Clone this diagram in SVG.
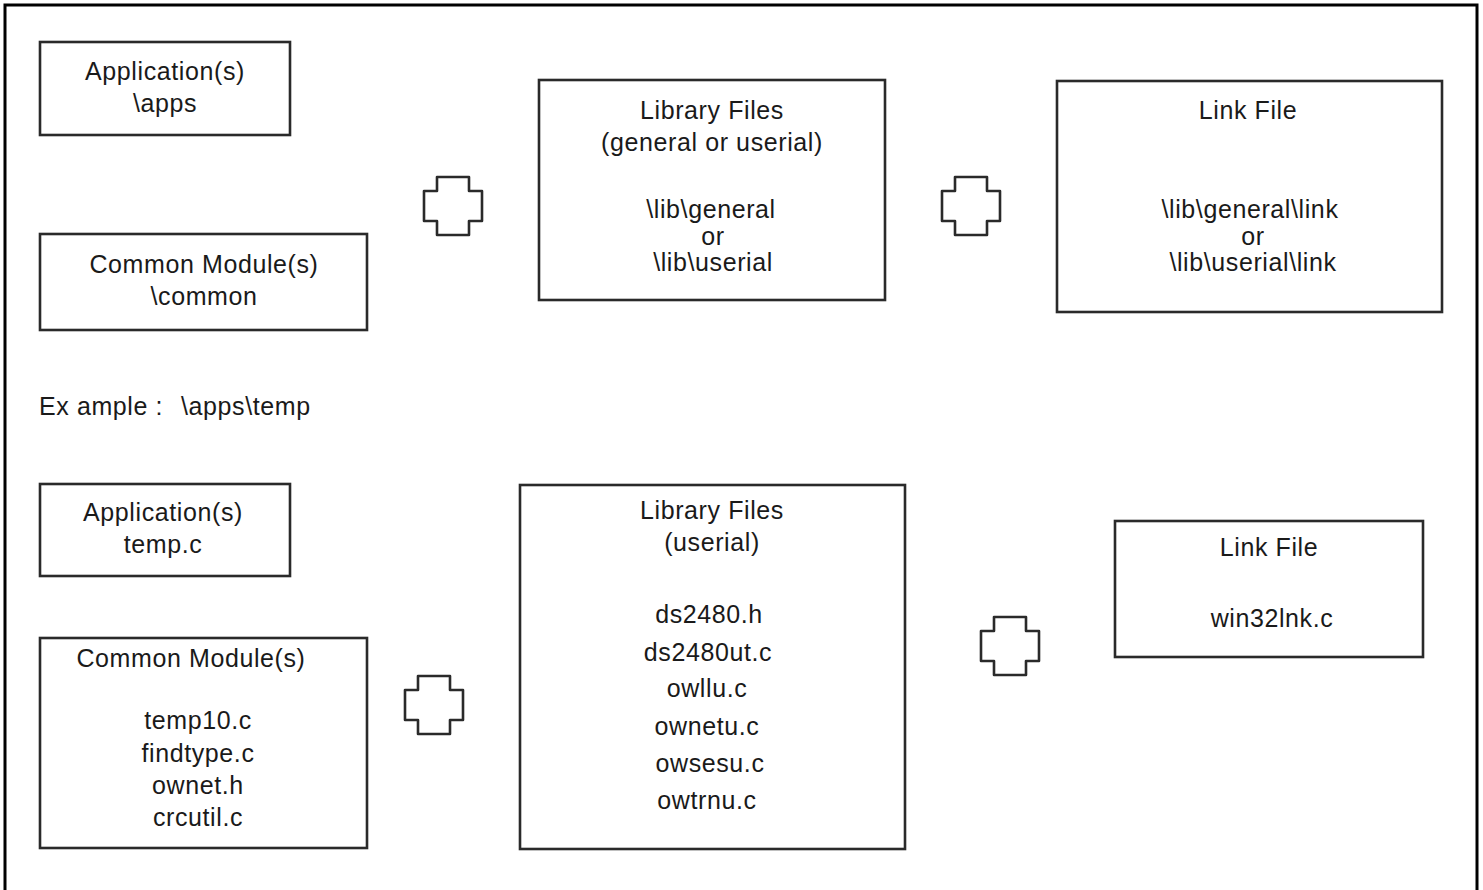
<svg xmlns="http://www.w3.org/2000/svg" width="1483" height="890" viewBox="0 0 1483 890">
<style>
.box{fill:#fff;stroke:#2a2a2a;stroke-width:2.6}
.plus{fill:#fff;stroke:#2a2a2a;stroke-width:2.6;stroke-linejoin:round}
text{font-family:"Liberation Sans",Arial,sans-serif;font-size:25px;letter-spacing:0.6px;fill:#1a1a1a}
.c{text-anchor:middle}
</style>
<defs>
<path id="plusShape" d="M-16,-29 H16 V-15 H29 V15 H16 V29 H-16 V15 H-29 V-15 H-16 Z"/>
</defs>
<rect x="0" y="0" width="1483" height="890" fill="#fff"/>
<rect x="5" y="5" width="1472" height="900" fill="none" stroke="#000" stroke-width="3"/>

<g id="app1">
<rect class="box" x="40" y="42" width="250" height="93"/>
<text class="c" x="165" y="80">Application(s)</text>
<text class="c" x="165" y="112">\apps</text>
</g>
<g id="common1">
<rect class="box" x="40" y="234" width="327" height="96"/>
<text class="c" x="204" y="273">Common Module(s)</text>
<text class="c" x="204" y="305">\common</text>
</g>
<g id="lib1">
<rect class="box" x="539" y="80" width="346" height="220"/>
<text class="c" x="712" y="119">Library Files</text>
<text class="c" x="712" y="151">(general or userial)</text>
<text class="c" x="711" y="218">\lib\general</text>
<text class="c" x="713" y="245">or</text>
<text class="c" x="713" y="271">\lib\userial</text>
</g>
<g id="link1">
<rect class="box" x="1057" y="81" width="385" height="231"/>
<text class="c" x="1248" y="119">Link File</text>
<text class="c" x="1250" y="218">\lib\general\link</text>
<text class="c" x="1253" y="245">or</text>
<text class="c" x="1253" y="271">\lib\userial\link</text>
</g>

<g id="example">
<text x="39" y="415">Ex ample :</text>
<text x="181" y="415">\apps\temp</text>
</g>

<g id="app2">
<rect class="box" x="40" y="484" width="250" height="92"/>
<text class="c" x="163" y="521">Application(s)</text>
<text class="c" x="163" y="553">temp.c</text>
</g>
<g id="common2">
<rect class="box" x="40" y="638" width="327" height="210"/>
<text class="c" x="191" y="667">Common Module(s)</text>
<text class="c" x="198" y="729">temp10.c</text>
<text class="c" x="198" y="762">findtype.c</text>
<text class="c" x="198" y="794">ownet.h</text>
<text class="c" x="198" y="826">crcutil.c</text>
</g>
<g id="lib2">
<rect class="box" x="520" y="485" width="385" height="364"/>
<text class="c" x="712" y="519">Library Files</text>
<text class="c" x="712" y="551">(userial)</text>
<text class="c" x="709" y="623">ds2480.h</text>
<text class="c" x="708" y="661">ds2480ut.c</text>
<text class="c" x="707" y="697">owllu.c</text>
<text class="c" x="707" y="735">ownetu.c</text>
<text class="c" x="710" y="772">owsesu.c</text>
<text class="c" x="707" y="809">owtrnu.c</text>
</g>
<g id="link2">
<rect class="box" x="1115" y="521" width="308" height="136"/>
<text class="c" x="1269" y="556">Link File</text>
<text class="c" x="1272" y="627">win32lnk.c</text>
</g>

<g id="connectors">
<use href="#plusShape" class="plus" x="453" y="206"/>
<use href="#plusShape" class="plus" x="971" y="206"/>
<use href="#plusShape" class="plus" x="434" y="705"/>
<use href="#plusShape" class="plus" x="1010" y="646"/>
</g>
</svg>
